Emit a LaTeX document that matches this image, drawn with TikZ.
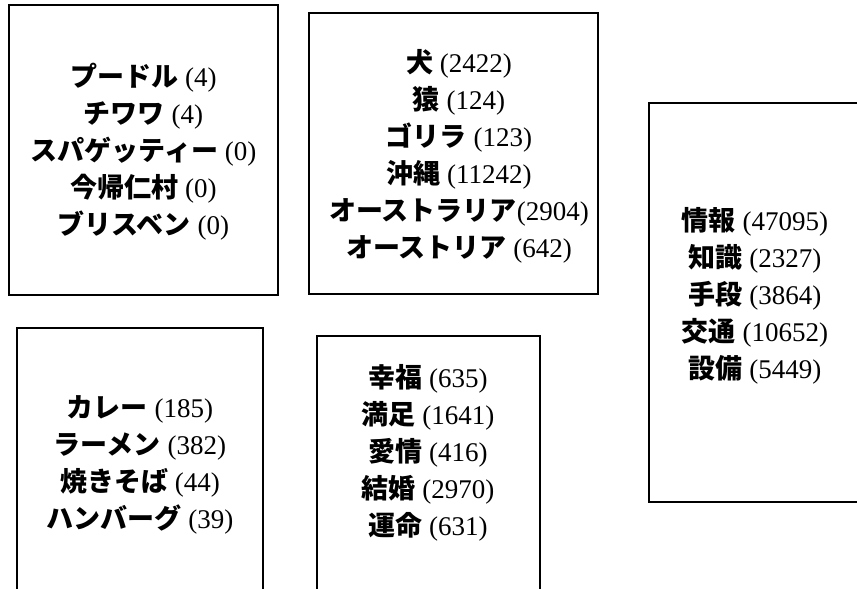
\documentclass[tikz,border=0pt]{standalone}
\usepackage{fontspec}
\setmainfont{Liberation Serif}
\newfontfamily\cjk{Noto Sans CJK JP}
\newcommand{\J}[1]{{\cjk\bfseries #1}}
\begin{document}
\begin{tikzpicture}[x=1pt,y=-1pt,
  box/.style={draw=black, line width=1.6pt, rectangle, inner sep=0pt, outer sep=0pt},
  txt/.style={align=center, inner sep=0pt, font=\fontsize{27}{37}\selectfont}]
\useasboundingbox (0,0) rectangle (857,589);
\clip (0,0) rectangle (857,589);
\fill[white] (0,0) rectangle (857,589);
% boxes
\node[box, minimum width=269pt, minimum height=290pt] (b1) at (143.5,150) {};
\node[box, minimum width=289pt, minimum height=281pt] (b2) at (453.5,153.5) {};
\node[box, minimum width=240pt, minimum height=399pt] (b3) at (769,302.5) {};
\node[box, minimum width=246pt, minimum height=290pt] (b4) at (140,473) {};
\node[box, minimum width=223pt, minimum height=280pt] (b5) at (428.5,476) {};
% texts
\node[txt] (t1) at (143.5,152) {\J{プードル} (4)\\ \J{チワワ} (4)\\ \J{スパゲッティー} (0)\\ \J{今帰仁村} (0)\\ \J{ブリスベン} (0)};
\node[txt] (t2) at (459,156.5) {\J{犬} (2422)\\ \J{猿} (124)\\ \J{ゴリラ} (123)\\ \J{沖縄} (11242)\\ \J{オーストラリア}(2904)\\ \J{オーストリア} (642)};
\node[txt] (t3) at (755,295.5) {\J{情報} (47095)\\ \J{知識} (2327)\\ \J{手段} (3864)\\ \J{交通} (10652)\\ \J{設備} (5449)};
\node[txt] (t4) at (140,465) {\J{カレー} (185)\\ \J{ラーメン} (382)\\ \J{焼きそば} (44)\\ \J{ハンバーグ} (39)};
\node[txt] (t5) at (428,452.5) {\J{幸福} (635)\\ \J{満足} (1641)\\ \J{愛情} (416)\\ \J{結婚} (2970)\\ \J{運命} (631)};
\end{tikzpicture}
\end{document}
